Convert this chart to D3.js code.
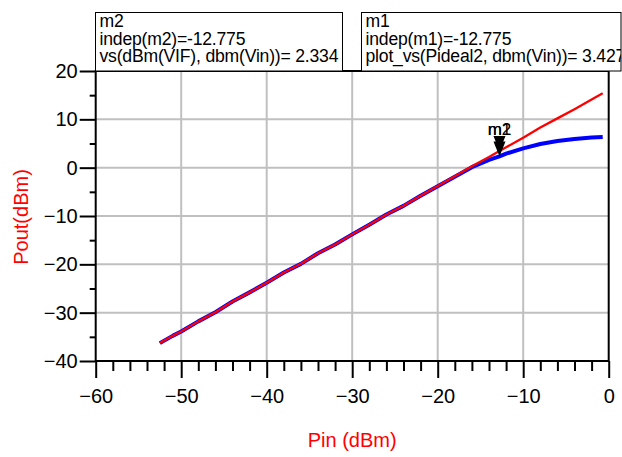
<!DOCTYPE html>
<html lang="en">
<head>
  <meta charset="UTF-8">
  <title>Pout vs Pin</title>
  <style>
    body { margin: 0; background: #fff; }
    svg { display: block; font-family: Arial, "Liberation Sans", sans-serif; }
  </style>
</head>
<body>
  <script src="https://d3js.org/d3.v7.min.js"></script>
  <script>
    // swept input power (dBm)
    const pin = [-52.5, -51, -50, -48, -46, -44, -42, -40, -38, -36, -34, -32, -30, -28, -26,
                 -24, -22, -20, -18, -16, -14, -12.775, -12, -10, -8, -6, -4, -2, -0.7];
    // ideal output (Pideal2)
    const pIdeal = [-36.3, -34.8, -33.9, -31.8, -29.9, -27.7, -25.8, -23.8, -21.7, -19.9, -17.7, -15.9, -13.8, -11.8, -9.7,
                    -7.9, -5.8, -3.8, -1.8, 0.3, 2.2, 3.427, 4.2, 6.2, 8.3, 10.2, 12.1, 14.1, 15.4];
    // simulated output dBm(VIF)
    const pVif = [-36.3, -34.8, -33.9, -31.8, -29.9, -27.7, -25.8, -23.8, -21.7, -19.9, -17.7, -15.9, -13.8, -11.8, -9.7,
                  -7.9, -5.8, -3.85, -1.9, 0.1, 1.6, 2.334, 2.9, 4.0, 4.9, 5.5, 5.95, 6.25, 6.35];

    const xMajor = [-60, -50, -40, -30, -20, -10, 0];
    const xMinor = [-58, -56, -54, -52, -48, -46, -44, -42, -38, -36, -34, -32, -28, -26, -24, -22, -18, -16, -14, -12, -8, -6, -4, -2];
    const yMajor = [20, 10, 0, -10, -20, -30, -40];
    const yMinor = [15, 5, -5, -15, -25, -35];

    const markerPin = -12.775;
    const markers = [
      { name: 'm2', expr: 'vs(dBm(VIF), dbm(Vin))', value: 2.334 },
      { name: 'm1', expr: 'plot_vs(Pideal2, dbm(Vin))', value: 3.427 }
    ];

    const width = 622, height = 457;
    const plot = { left: 95.7, right: 608.7, top: 71, bottom: 361 };

    const svg = d3.select('body').append('svg').attr('width', width).attr('height', height);

    const x = d3.scaleLinear().domain([-60, 0]).range([plot.left, plot.right]);
    const y = d3.scaleLinear().domain([-40, 20]).range([plot.bottom, plot.top]);

    // grid
    const grid = svg.append('g').attr('stroke', '#c0c0c0').attr('stroke-width', 2);
    grid.selectAll('.gx').data(xMajor.slice(1, -1)).join('line')
      .attr('x1', d => x(d)).attr('x2', d => x(d)).attr('y1', plot.top).attr('y2', plot.bottom);
    grid.selectAll('.gy').data(yMajor.slice(1, -1)).join('line')
      .attr('x1', plot.left).attr('x2', plot.right).attr('y1', d => y(d)).attr('y2', d => y(d));

    // axes
    svg.append('g').attr('transform', `translate(0,${plot.bottom})`)
      .call(d3.axisBottom(x).tickValues(xMajor).tickSize(17).tickPadding(11).tickFormat(d3.format('d')));
    svg.append('g').attr('transform', `translate(0,${plot.bottom})`)
      .call(d3.axisBottom(x).tickValues(xMinor).tickSize(10).tickFormat(''));
    svg.append('g').attr('transform', `translate(${plot.left},0)`)
      .call(d3.axisLeft(y).tickValues(yMajor).tickSize(16).tickPadding(2).tickFormat(d3.format('d')));
    svg.append('g').attr('transform', `translate(${plot.left},0)`)
      .call(d3.axisLeft(y).tickValues(yMinor).tickSize(6).tickFormat(''));

    svg.selectAll('.domain').remove();
    svg.selectAll('.tick line').attr('stroke', '#000').attr('stroke-width', 2);
    svg.selectAll('.tick text').attr('fill', '#000').style('font-size', '20px')
      .style('font-family', 'Arial, "Liberation Sans", sans-serif');

    // plot frame
    svg.append('rect')
      .attr('x', plot.left).attr('y', plot.top)
      .attr('width', plot.right - plot.left).attr('height', plot.bottom - plot.top)
      .attr('fill', 'none').attr('stroke', '#000').attr('stroke-width', 2);

    // traces
    const line = d3.line().x((d, i) => x(pin[i])).y(d => y(d));
    svg.append('path').datum(pVif).attr('d', line)
      .attr('fill', 'none').attr('stroke', '#0000ff').attr('stroke-width', 4).attr('stroke-linejoin', 'round');
    svg.append('path').datum(pIdeal).attr('d', line)
      .attr('fill', 'none').attr('stroke', '#ff0000').attr('stroke-width', 2.3).attr('stroke-linejoin', 'round');

    // marker arrows
    const mk = svg.append('g');
    markers.forEach(m => {
      const px = x(markerPin), py = y(m.value);
      mk.append('path')
        .attr('d', `M${px - 6},${py - 15}L${px + 6},${py - 15}L${px},${py}Z`)
        .attr('fill', '#000');
      mk.append('text')
        .attr('x', px).attr('y', 135).attr('text-anchor', 'middle')
        .style('font-size', '17px').text(m.name);
    });

    // marker readout boxes
    const boxes = [
      { x0: 95.5, x1: 342.5 },
      { x0: 361.5, x1: 621 }
    ];
    markers.forEach((m, i) => {
      const b = boxes[i];
      const clipId = 'clip-' + m.name;
      svg.append('clipPath').attr('id', clipId)
        .append('rect').attr('x', b.x0).attr('y', 12).attr('width', b.x1 - b.x0).attr('height', 60);
      const g = svg.append('g');
      g.append('rect')
        .attr('x', b.x0).attr('y', 12.5).attr('width', b.x1 - b.x0).attr('height', 58.5)
        .attr('fill', '#fff').attr('stroke', '#000').attr('stroke-width', 1);
      const t = g.append('g').attr('clip-path', `url(#${clipId})`)
        .style('font-size', '17.6px').style('letter-spacing', '-0.2px');
      const lines = [m.name, `indep(${m.name})=-${Math.abs(markerPin)}`, `${m.expr}= ${m.value}`];
      lines.forEach((s, k) => {
        t.append('text').attr('x', b.x0 + 4).attr('y', 27 + k * 17.5).text(s);
      });
    });

    // axis titles
    svg.append('text')
      .attr('transform', 'translate(28,217) rotate(-90)')
      .attr('text-anchor', 'middle').attr('fill', '#ff0000').style('font-size', '20px')
      .text('Pout(dBm)');
    svg.append('text')
      .attr('x', x(-30)).attr('y', 447).attr('text-anchor', 'middle')
      .attr('fill', '#ff0000').style('font-size', '20px')
      .text('Pin (dBm)');
  </script>
</body>
</html>
